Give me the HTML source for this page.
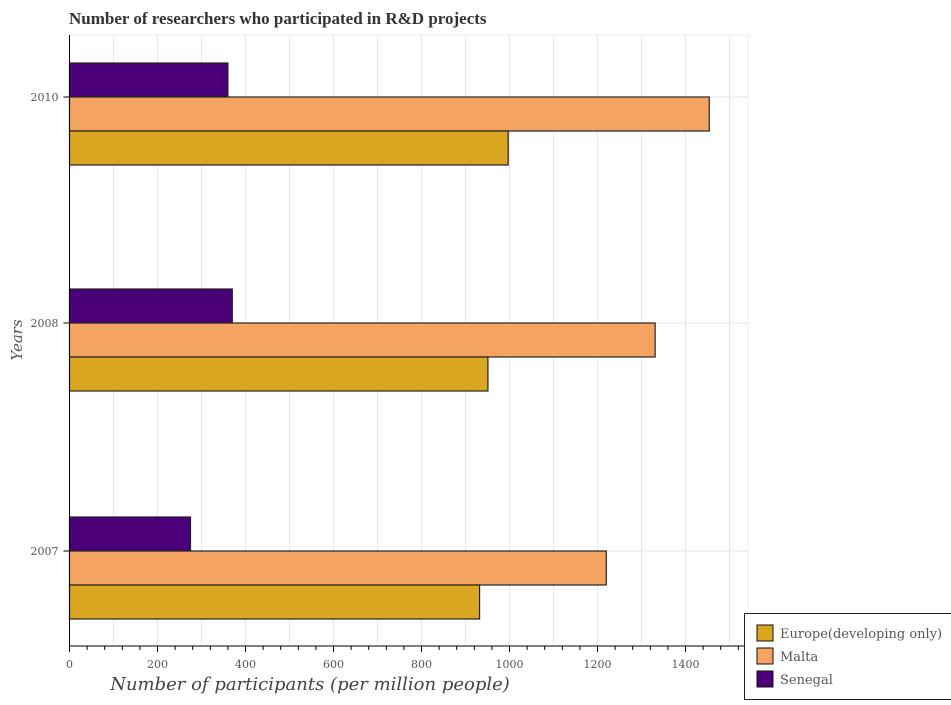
<!DOCTYPE html>
<html><head><meta charset="utf-8"><style>
body{margin:0;background:#fff;}
svg text{font-family:"DejaVu Serif","Liberation Serif",serif;}
</style></head><body>
<svg id="c" width="951" height="700" xmlns="http://www.w3.org/2000/svg">
<text x="69" y="24" font-size="17" font-weight="bold" fill="#333" style="font-family:'Liberation Serif',serif">Number of researchers who participated in R&amp;D projects</text>
<g id="grid"></g><g id="bars"></g><g id="axes"></g>
<text x="310" y="690" font-size="18" font-style="italic" fill="#444" text-anchor="middle">Number of participants (per million people)</text>
<text transform="translate(22,340) rotate(-90)" font-size="15" font-style="italic" fill="#555" text-anchor="middle">Years</text>
<g>
<rect x="744.5" y="613.5" width="210" height="86" fill="#fff" stroke="#222" stroke-width="1"/>
<g id="leg"></g>
</g>
</svg>
<script>
const years=["2007","2008","2010"];
const europe=[932,951,997];
const malta=[1220,1331,1454];
const senegal=[275,370,360];
const xTicks=[0,200,400,600,800,1000,1200,1400];
const tickLabels=["0","200","400","600","800","1000","1200","1400"];
const ns="http://www.w3.org/2000/svg";
const X0=69.5,K=0.44,R=748,TOP=35,BOT=646;
const x=v=>X0+v*K;
const yc=i=>[551,323,97][i];
function mk(t,a,p){const e=document.createElementNS(ns,t);for(const k in a)e.setAttribute(k,a[k]);p.appendChild(e);return e;}
const G=document.getElementById('grid'),B=document.getElementById('bars'),A=document.getElementById('axes');
mk('rect',{x:X0,y:TOP,width:R-X0,height:BOT-TOP,fill:'#fff',stroke:'#eee'},G);
for(let v=0;v<=1500;v+=100){if(x(v)<R)mk('line',{x1:x(v),x2:x(v),y1:TOP,y2:BOT,stroke:'#e6e6e6'},G);}
years.forEach((y,i)=>mk('line',{x1:X0,x2:R,y1:yc(i),y2:yc(i),stroke:'#e6e6e6'},G));
const series=[[senegal,'#4b0079',-34,'Senegal'],[malta,'#f4a460',0,'Malta'],[europe,'#daa520',34,'Europe(developing only)']];
series.forEach(([arr,col,off,nm])=>{arr.forEach((v,i)=>{
const r=mk('rect',{x:X0,y:yc(i)+off,width:v*K,height:34,fill:col,stroke:'#222','stroke-width':1.2},B);

});});
mk('line',{x1:X0,x2:X0,y1:TOP,y2:BOT,stroke:'#000'},A);
mk('line',{x1:X0,x2:R,y1:BOT,y2:BOT,stroke:'#000'},A);
for(let v=0;v<=1520;v+=40){if(x(v)<=R)mk('line',{x1:x(v),x2:x(v),y1:BOT,y2:BOT+(v%200==0?6:4),stroke:'#000'},A);}
xTicks.forEach((v,i)=>{const t=mk('text',{x:x(v),y:BOT+22,'font-size':11,fill:'#555','text-anchor':'middle'},A);t.textContent=tickLabels[i];

});
years.forEach((y,i)=>{mk('line',{x1:X0-6,x2:X0,y1:yc(i),y2:yc(i),stroke:'#000'},A);
const t=mk('text',{x:X0-11,y:yc(i)+4,'font-size':11,fill:'#555','text-anchor':'end'},A);t.textContent=y;

});
const L=document.getElementById('leg');
[['Europe(developing only)','#daa520'],['Malta','#f4a460'],['Senegal','#4b0079']].forEach(([n,c],i)=>{
const yy=625+i*23;
const r=mk('rect',{x:757,y:yy,width:16,height:16,fill:c,stroke:'#111'},L);


const t=mk('text',{x:780,y:yy+13,'font-size':13,fill:'#555'},L);t.textContent=n;

});
</script>
</body></html>
